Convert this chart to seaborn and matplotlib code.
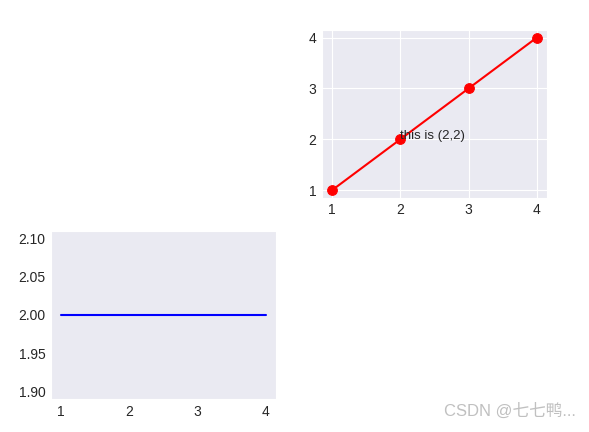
import matplotlib
matplotlib.use("Agg")
import matplotlib.pyplot as plt
import seaborn as sns

# data
x_vals = [1, 2, 3, 4]
y_rising = [1, 2, 3, 4]
y_flat = [2, 2, 2, 2]
note_text = "this is (2,2)"
watermark = "CSDN @七七鸭..."

sns.set_style("darkgrid")
plt.rcParams["font.family"] = ["Liberation Sans", "Noto Sans CJK SC", "DejaVu Sans"]

fig = plt.figure(figsize=(5.89, 4.32), dpi=100)

# top right panel
ax2 = fig.add_axes([0.5467, 0.5424, 0.3820, 0.3882])
sns.lineplot(x=x_vals, y=y_rising, color="red", marker="o", markersize=7,
             markeredgecolor="red", linewidth=1.5, ax=ax2)
ax2.text(2, 2, note_text, fontsize=9.5, color="#262626")
ax2.set_xticks(x_vals)
ax2.set_yticks(y_rising)

# bottom left panel
ax3 = fig.add_axes([0.0866, 0.0764, 0.3820, 0.3889])
sns.lineplot(x=x_vals, y=y_flat, color="blue", linewidth=1.5, ax=ax3)
ax3.grid(False)
ax3.set_xticks(x_vals)
ax3.set_ylim(1.89, 2.11)
ax3.set_yticks([1.90, 1.95, 2.00, 2.05, 2.10])
ax3.set_yticklabels(["1.90", "1.95", "2.00", "2.05", "2.10"])

for ax in (ax2, ax3):
    ax.tick_params(labelsize=10, colors="#262626", length=0, pad=4)

fig.text(0.977, 0.03, watermark, ha="right", va="bottom", fontsize=12,
         color="#c0c0c0")

fig.savefig("out.png", dpi=100)
